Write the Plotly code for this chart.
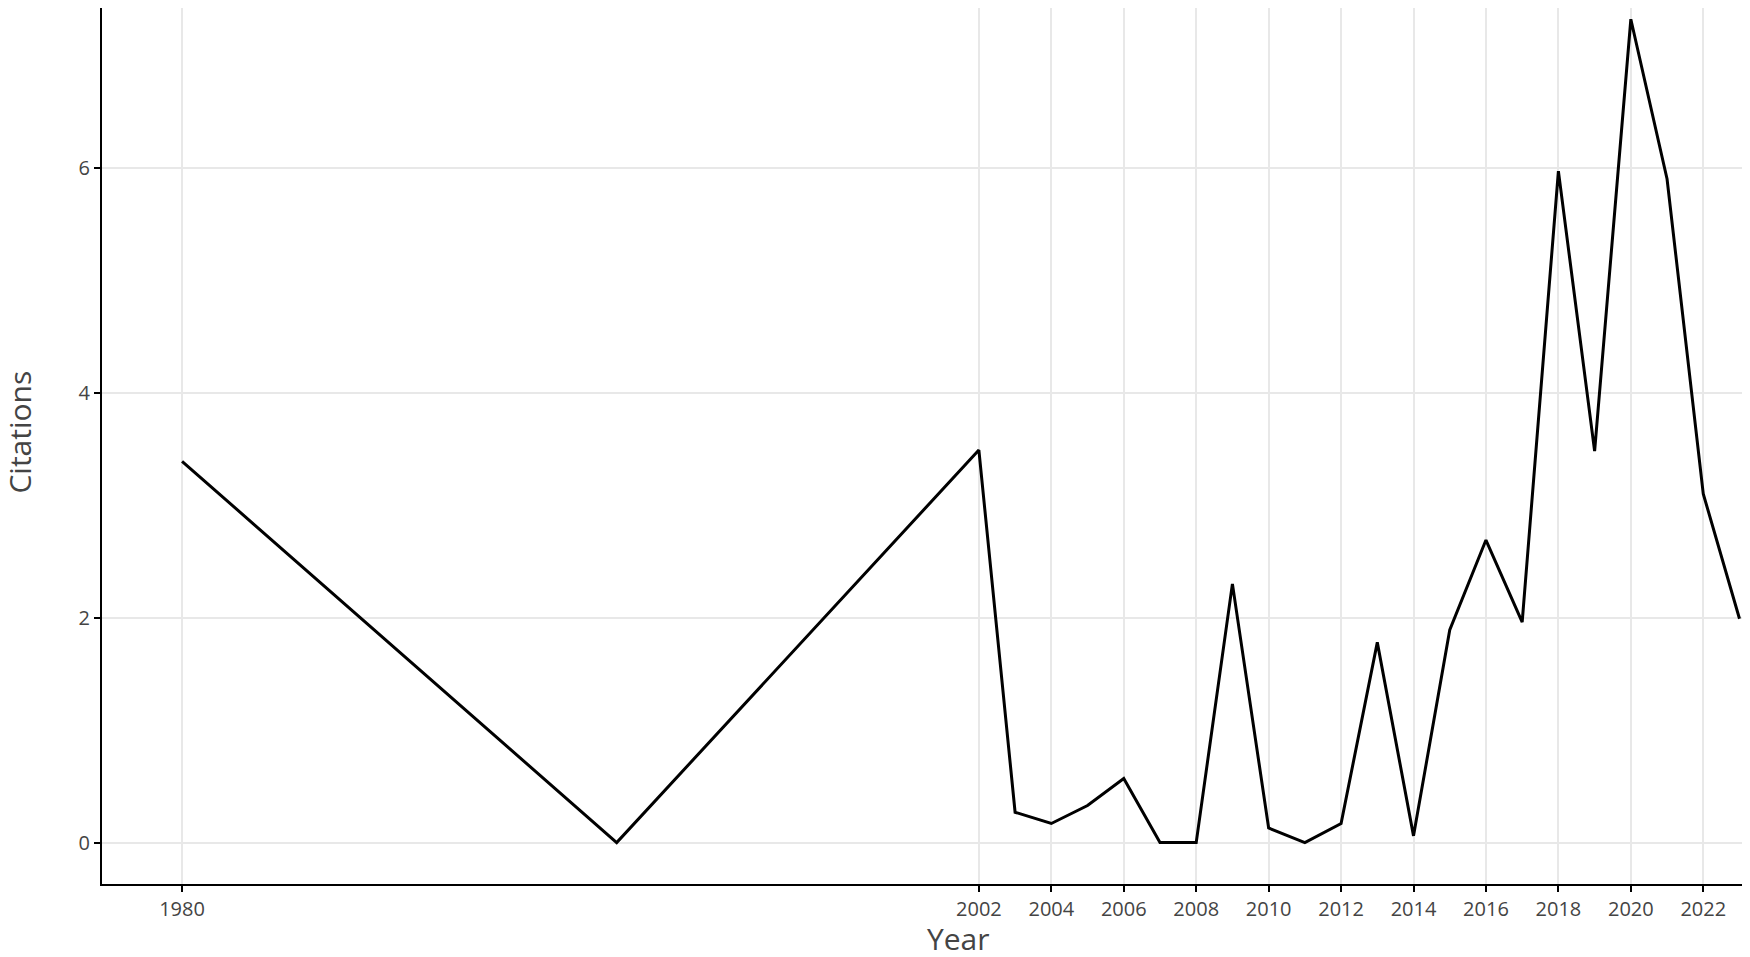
import plotly.graph_objects as go

# citations per publication year
years = [1980, 1992, 2002, 2003, 2004, 2005, 2006, 2007, 2008, 2009, 2010, 2011,
         2012, 2013, 2014, 2015, 2016, 2017, 2018, 2019, 2020, 2021, 2022, 2023]
citations = [3.39, 0.0, 3.49, 0.27, 0.17, 0.33, 0.57, 0.0, 0.0, 2.30, 0.13, 0.0,
             0.17, 1.78, 0.06, 1.89, 2.69, 1.96, 5.97, 3.48, 7.32, 5.90, 3.10, 1.99]

x_ticks = [1980] + list(range(2002, 2023, 2))
y_ticks = [0, 2, 4, 6]

FONT = "Open Sans, DejaVu Sans, sans-serif"
TEXT = "#444444"
GRID = "#e8e8e8"

fig = go.Figure(
    go.Scatter(x=years, y=citations, mode="lines",
               line=dict(color="black", width=3), showlegend=False)
)

axis_common = dict(
    showgrid=True, gridcolor=GRID, gridwidth=1.5,
    zeroline=False,
    showline=True, linecolor="black", linewidth=2,
    ticks="outside", ticklen=6, tickwidth=2, tickcolor="black",
    tickfont=dict(family=FONT, size=20, color=TEXT),
)

fig.update_xaxes(range=[1977.79, 2023.29], tickvals=x_ticks, **axis_common)
fig.update_yaxes(range=[-0.368, 7.42], tickvals=y_ticks, **axis_common)

# axis titles sit where they would on the uncropped original
fig.add_annotation(text="Year", xref="paper", yref="paper", x=0.520, y=-0.088,
                   xanchor="center", yanchor="bottom", showarrow=False,
                   font=dict(family=FONT, size=30, color=TEXT))
fig.add_annotation(text="Citations", xref="paper", yref="paper", x=-0.050, y=0.516,
                   xanchor="center", yanchor="middle", textangle=-90, showarrow=False,
                   font=dict(family=FONT, size=30, color=TEXT))

# page body keeps its 8px margin, so the figure is sized to end at the window edge
fig.update_layout(
    width=1742, height=949,
    margin=dict(l=94, r=0, t=0, b=73),
    paper_bgcolor="white", plot_bgcolor="white",
    font=dict(family=FONT, color=TEXT),
)

fig.write_html("out.html")
